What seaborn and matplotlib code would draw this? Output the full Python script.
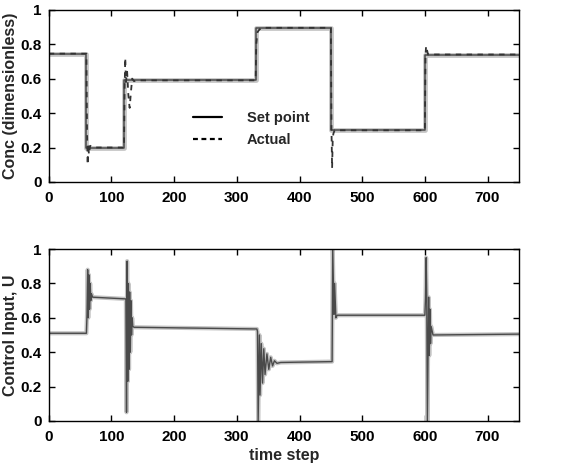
import matplotlib
matplotlib.use("Agg")
import matplotlib.pyplot as plt
from matplotlib.lines import Line2D
import seaborn as sns
import pandas as pd

# Set-point schedule (step changes)
sp_time = [0, 60, 120, 330, 450, 600, 750]
sp_level = [0.745, 0.20, 0.59, 0.895, 0.30, 0.74, 0.74]

# Measured concentration
act_time = [0, 60, 61, 62, 63, 64, 66, 70, 120, 121, 122, 123, 125, 127, 129, 131,
            133, 136, 140, 330, 331, 333, 336, 340, 450, 451, 452, 453, 454, 456,
            600, 601, 602, 605, 750]
act_conc = [0.745, 0.745, 0.30, 0.10, 0.22, 0.16, 0.21, 0.20, 0.20, 0.55, 0.72, 0.58,
            0.64, 0.50, 0.43, 0.52, 0.60, 0.585, 0.59, 0.59, 0.80, 0.87, 0.885, 0.895,
            0.895, 0.30, 0.08, 0.25, 0.28, 0.30, 0.30, 0.74, 0.79, 0.74, 0.74]

# Controller output
u_time = [0, 60, 61, 62, 63, 64, 65, 66, 67, 68, 70, 123, 124, 125, 126, 127, 128,
          129, 130, 131, 132, 133, 134, 136, 332, 333, 334, 336, 337, 339, 341, 343,
          345, 348, 351, 354, 357, 360, 364, 370, 452, 453, 455, 456, 458, 460,
          600, 601, 602, 603, 604, 606, 607, 608, 609, 610, 613, 750]
u_val = [0.51, 0.51, 0.62, 0.88, 0.60, 0.85, 0.65, 0.80, 0.70, 0.74, 0.72, 0.71,
         0.05, 0.93, 0.23, 0.80, 0.30, 0.75, 0.40, 0.70, 0.50, 0.60, 0.55, 0.545,
         0.535, 0.52, 0.0, 0.50, 0.15, 0.45, 0.22, 0.42, 0.27, 0.39, 0.30, 0.37,
         0.32, 0.35, 0.335, 0.34, 0.345, 1.0, 0.62, 0.80, 0.60, 0.615, 0.615, 0.71,
         0.95, 0.72, 0.0, 0.72, 0.38, 0.65, 0.45, 0.55, 0.50, 0.505]

x_ticks = [0, 100, 200, 300, 400, 500, 600, 700]
y_ticks = [0, 0.2, 0.4, 0.6, 0.8, 1.0]
y_ticklabels = ["0", "0.2", "0.4", "0.6", "0.8", "1"]

sp_df = pd.DataFrame({"t": sp_time, "y": sp_level})
act_df = pd.DataFrame({"t": act_time, "y": act_conc})
u_df = pd.DataFrame({"t": u_time, "y": u_val})

sns.set_theme(style="ticks")
plt.rcParams["font.family"] = ["Liberation Sans", "DejaVu Sans"]

fig = plt.figure(figsize=(5.74, 4.63), dpi=100)
ax1 = fig.add_axes([0.085, 0.607, 0.819, 0.372])
ax2 = fig.add_axes([0.085, 0.091, 0.819, 0.371])

soft = "#c4c4c4"
dark = "#4a4a4a"

# Upper panel: set point and actual concentration
sns.lineplot(data=sp_df, x="t", y="y", ax=ax1, estimator=None, sort=False,
             drawstyle="steps-post", color=soft, linewidth=3.4)
sns.lineplot(data=sp_df, x="t", y="y", ax=ax1, estimator=None, sort=False,
             drawstyle="steps-post", color=dark, linewidth=1.1)
sns.lineplot(data=act_df, x="t", y="y", ax=ax1, estimator=None, sort=False,
             color="#333333", linewidth=1.3, linestyle=(0, (3, 3)))

# Lower panel: control input
sns.lineplot(data=u_df, x="t", y="y", ax=ax2, estimator=None, sort=False,
             color=soft, linewidth=3.0)
sns.lineplot(data=u_df, x="t", y="y", ax=ax2, estimator=None, sort=False,
             color=dark, linewidth=1.0)

handles = [Line2D([], [], color="black", lw=1.6),
           Line2D([], [], color="black", lw=1.6, linestyle=(0, (2.2, 1.6)))]
ax1.legend(handles, ["Set point", "Actual"], loc="upper left",
           bbox_to_anchor=(0.278, 0.49), frameon=False, handlelength=2.0,
           handletextpad=1.7, labelspacing=0.6,
           prop={"weight": "bold", "size": 10.5})

for ax in (ax1, ax2):
    ax.set_xlim(0, 750)
    ax.set_ylim(0, 1)
    ax.set_xticks(x_ticks)
    ax.set_xticklabels([str(v) for v in x_ticks])
    ax.set_yticks(y_ticks)
    ax.set_yticklabels(y_ticklabels)
    ax.tick_params(direction="in", length=4, width=1, top=True, right=True,
                   labelsize=11, colors="black")
    ax.tick_params(axis="x", pad=6.5)
    ax.tick_params(axis="y", pad=5)
    for s in ax.spines.values():
        s.set_visible(True)
        s.set_linewidth(1.0)
        s.set_color("black")
    for lab in ax.get_xticklabels() + ax.get_yticklabels():
        lab.set_fontweight("bold")
    ax.yaxis.set_label_coords(-0.066, 0.5)

ax1.set_xlabel("")
ax1.set_ylabel("Conc (dimensionless)", fontsize=11.5, fontweight="bold")
ax2.set_xlabel("time step", fontsize=11.5, fontweight="bold", labelpad=3)
ax2.set_ylabel("Control Input, U", fontsize=11.5, fontweight="bold")

fig.savefig("out.png", dpi=100)
